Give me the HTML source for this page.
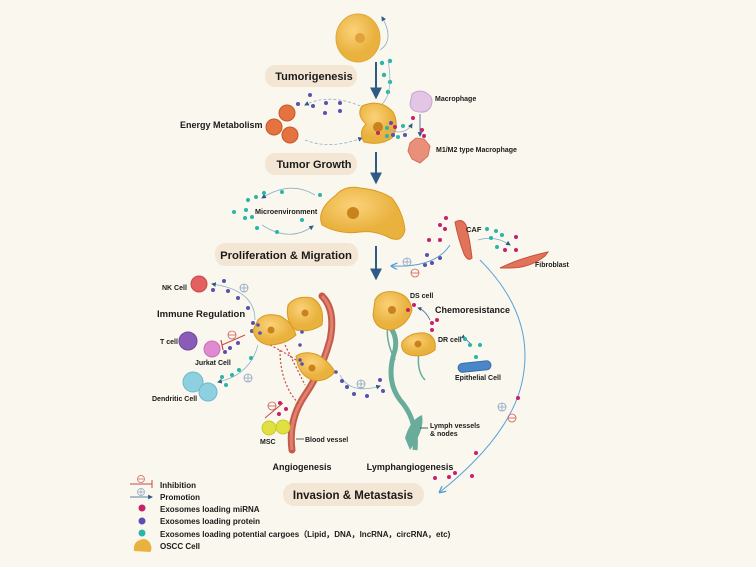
<!DOCTYPE html>
<html><head><meta charset="utf-8"><style>
html,body{margin:0;padding:0;background:#faf8ee;}
svg{display:block;font-family:"Liberation Sans",sans-serif;}
.b{font-weight:bold;fill:#1a1a1a;}
</style></head><body>
<svg width="756" height="567" viewBox="0 0 756 567">
<defs>
<marker id="ah" viewBox="0 0 10 10" refX="8" refY="5" markerWidth="6" markerHeight="6" orient="auto"><path d="M0,0L10,5L0,10z" fill="#2d5a87"/></marker>
<marker id="ab" viewBox="0 0 10 10" refX="8" refY="5" markerWidth="7" markerHeight="7" orient="auto"><path d="M0,0L10,5L0,10" fill="none" stroke="#5aa0d8" stroke-width="2"/></marker>
<radialGradient id="yc" cx="40%" cy="35%"><stop offset="0" stop-color="#fbd27a"/><stop offset="1" stop-color="#e9b13d"/></radialGradient>
</defs>
<rect width="756" height="567" fill="#faf8ee"/>

<g stroke="#2d5a87" stroke-width="2" fill="none" marker-end="url(#ah)">
<line x1="376" y1="62" x2="376" y2="97"/><line x1="376" y1="152" x2="376" y2="182"/><line x1="376" y1="246" x2="376" y2="278"/>
</g>

<rect x="265" y="65" width="92" height="22" rx="10" fill="#f4e6d4"/>
<text x="314" y="80" class="b" font-size="11" text-anchor="middle">Tumorigenesis</text>
<rect x="265" y="153" width="92" height="22" rx="10" fill="#f4e6d4"/>
<text x="314" y="168" class="b" font-size="11" text-anchor="middle">Tumor Growth</text>
<rect x="215" y="243" width="143" height="23" rx="10" fill="#f4e6d4"/>
<text x="286" y="259" class="b" font-size="11.3" text-anchor="middle">Proliferation &amp; Migration</text>
<rect x="283" y="483" width="141" height="23" rx="11" fill="#f4e6d4"/>
<text x="353" y="499" class="b" font-size="11.5" text-anchor="middle">Invasion &amp; Metastasis</text>

<ellipse cx="358" cy="38" rx="22" ry="24" fill="url(#yc)" stroke="#e0a93a"/>
<circle cx="360" cy="38" r="5" fill="#e0a23a"/>
<path d="M380,50 Q395,40 382,17" stroke="#8ab0c8" fill="none" stroke-width="0.8" marker-end="url(#ah)"/>
<g fill="#2bb5a8"><circle cx="382" cy="63" r="2.2"/><circle cx="390" cy="61" r="2.2"/><circle cx="384" cy="75" r="2.2"/><circle cx="390" cy="82" r="2.2"/><circle cx="388" cy="92" r="2.2"/></g>
<path d="M376,108 Q395,100 388,60" stroke="#8ab0c8" fill="none" stroke-width="0.7"/>

<text x="180" y="128" class="b" font-size="9">Energy Metabolism</text>
<g fill="#e5733f" stroke="#c8562a"><circle cx="287" cy="113" r="8"/><circle cx="274" cy="127" r="8"/><circle cx="290" cy="135" r="8"/></g>
<path d="M365,108 Q330,92 305,105" stroke="#8ab0c8" fill="none" stroke-width="0.8" stroke-dasharray="3,2" marker-end="url(#ah)"/>
<path d="M305,140 Q330,150 362,138" stroke="#8ab0c8" fill="none" stroke-width="0.8" stroke-dasharray="3,2" marker-end="url(#ah)"/>
<g fill="#5b4fb0"><circle cx="298" cy="104" r="2"/><circle cx="310" cy="95" r="2"/><circle cx="313" cy="106" r="2"/><circle cx="326" cy="103" r="2"/><circle cx="325" cy="113" r="2"/><circle cx="340" cy="103" r="2"/><circle cx="340" cy="111" r="2"/></g>
<path d="M362,106 Q380,98 393,112 Q400,125 392,138 Q380,146 364,142 Q358,132 366,124 Q356,115 362,106z" fill="url(#yc)" stroke="#d99a20"/>
<circle cx="378" cy="127" r="5" fill="#c9831c"/>
<path d="M412,94 Q420,88 428,94 Q434,98 431,106 Q428,113 420,112 Q411,112 410,104z" fill="#e3c5e6" stroke="#c9a3d0"/>
<text x="435" y="101" class="b" font-size="7">Macrophage</text>
<line x1="420" y1="114" x2="420" y2="136" stroke="#2d5a87" stroke-width="0.8" marker-end="url(#ah)"/>
<path d="M410,143 L416,138 L424,139 L430,146 L428,156 L420,163 L412,159 L408,151z" fill="#e8907a" stroke="#d87060"/>
<text x="436" y="152" class="b" font-size="7">M1/M2 type Macrophage</text>
<path d="M390,130 Q405,136 412,124" stroke="#8ab0c8" fill="none" stroke-width="0.8" marker-end="url(#ah)"/>
<g fill="#2bb5a8"><circle cx="387" cy="128" r="2"/><circle cx="403" cy="126" r="2"/><circle cx="387" cy="136" r="2"/><circle cx="398" cy="137" r="2"/></g>
<g fill="#5b4fb0"><circle cx="391" cy="123" r="2"/><circle cx="393" cy="135" r="2"/><circle cx="405" cy="135" r="2"/></g>
<g fill="#c8206a"><circle cx="395" cy="127" r="2"/><circle cx="378" cy="133" r="2"/><circle cx="413" cy="118" r="2"/><circle cx="422" cy="130" r="2"/><circle cx="424" cy="136" r="2"/></g>

<text x="255" y="214" class="b" font-size="7.2">Microenvironment</text>
<path d="M315,195 Q290,180 262,198" stroke="#8ab0c8" fill="none" stroke-width="0.8" marker-end="url(#ah)"/>
<path d="M262,225 Q290,243 313,226" stroke="#8ab0c8" fill="none" stroke-width="0.8" marker-end="url(#ah)"/>
<g fill="#2bb5a8"><circle cx="248" cy="200" r="2"/><circle cx="256" cy="197" r="2"/><circle cx="264" cy="193" r="2"/><circle cx="282" cy="192" r="2"/><circle cx="234" cy="212" r="2"/><circle cx="246" cy="210" r="2"/><circle cx="245" cy="218" r="2"/><circle cx="252" cy="217" r="2"/><circle cx="257" cy="228" r="2"/><circle cx="277" cy="232" r="2"/><circle cx="302" cy="220" r="2"/><circle cx="320" cy="195" r="2"/></g>
<path d="M336,195 Q345,185 360,188 Q380,190 392,198 Q403,212 405,230 Q402,243 390,238 Q375,230 360,232 Q340,235 322,225 Q316,210 336,195z" fill="url(#yc)" stroke="#d99a20"/>
<circle cx="353" cy="213" r="6" fill="#c9831c"/>

<path d="M455,222 Q462,218 466,225 Q470,240 472,258 Q468,262 464,254 Q458,238 455,222z" fill="#e0735a" stroke="#c8503a"/>
<text x="466" y="232" class="b" font-size="7.5">CAF</text>
<path d="M500,268 Q520,258 548,252 L545,256 Q530,268 510,268z" fill="#e0735a" stroke="#c8503a"/>
<text x="535" y="267" class="b" font-size="7">Fibroblast</text>
<path d="M478,240 Q495,235 510,245" stroke="#8ab0c8" fill="none" stroke-width="0.8" marker-end="url(#ah)"/>
<g fill="#2bb5a8"><circle cx="487" cy="229" r="2"/><circle cx="496" cy="231" r="2"/><circle cx="502" cy="235" r="2"/><circle cx="491" cy="238" r="2"/><circle cx="497" cy="247" r="2"/></g>
<g fill="#c8206a"><circle cx="446" cy="218" r="2"/><circle cx="440" cy="225" r="2"/><circle cx="445" cy="229" r="2"/><circle cx="429" cy="240" r="2"/><circle cx="440" cy="240" r="2"/><circle cx="516" cy="237" r="2"/><circle cx="505" cy="250" r="2"/><circle cx="516" cy="250" r="2"/></g>
<g fill="#5b4fb0"><circle cx="427" cy="255" r="2"/><circle cx="440" cy="258" r="2"/><circle cx="432" cy="263" r="2"/><circle cx="425" cy="265" r="2"/></g>
<path d="M450,245 Q435,268 392,266" stroke="#5aa0d8" fill="none" stroke-width="1" marker-end="url(#ab)"/>
<circle cx="407" cy="262" r="4" fill="none" stroke="#8aa0c0" stroke-width="0.8"/><path d="M403,262h8M407,258v8" stroke="#8aa0c0" stroke-width="0.8"/>
<circle cx="415" cy="273" r="4" fill="none" stroke="#d05a5a" stroke-width="0.8"/><path d="M411,273h8" stroke="#d05a5a" stroke-width="0.8"/>
<path d="M480,260 Q540,320 520,390 Q505,440 440,492" stroke="#5aa0d8" fill="none" stroke-width="1" marker-end="url(#ab)"/>
<circle cx="502" cy="407" r="4" fill="none" stroke="#8aa0c0" stroke-width="0.8"/><path d="M498,407h8M502,403v8" stroke="#8aa0c0" stroke-width="0.8"/>
<circle cx="512" cy="418" r="4" fill="none" stroke="#d05a5a" stroke-width="0.8"/><path d="M508,418h8" stroke="#d05a5a" stroke-width="0.8"/>
<g fill="#c8206a"><circle cx="518" cy="398" r="2"/><circle cx="476" cy="453" r="2"/><circle cx="455" cy="473" r="2"/><circle cx="435" cy="478" r="2"/><circle cx="449" cy="477" r="2"/><circle cx="472" cy="476" r="2"/></g>

<text x="162" y="290" class="b" font-size="7">NK Cell</text>
<circle cx="199" cy="284" r="8" fill="#e46060" stroke="#c84848"/>
<text x="157" y="317" class="b" font-size="9.5">Immune Regulation</text>
<text x="160" y="344" class="b" font-size="7">T cell</text>
<circle cx="188" cy="341" r="9" fill="#8a5cb8" stroke="#6e44a0"/>
<circle cx="212" cy="349" r="8" fill="#e08ad0" stroke="#c870b8"/>
<text x="195" y="365" class="b" font-size="7">Jurkat Cell</text>
<circle cx="193" cy="382" r="10" fill="#8ed0e0" stroke="#6ab8cc"/><circle cx="208" cy="392" r="9" fill="#8ed0e0" stroke="#6ab8cc"/>
<text x="152" y="401" class="b" font-size="7">Dendritic Cell</text>
<path d="M255,320 Q255,290 212,284" stroke="#8ab0c8" fill="none" stroke-width="0.8" marker-end="url(#ah)"/>
<path d="M258,345 Q250,375 218,382" stroke="#8ab0c8" fill="none" stroke-width="0.8" marker-end="url(#ah)"/>
<line x1="245" y1="335" x2="222" y2="345" stroke="#c84848" stroke-width="1"/><line x1="221" y1="340" x2="223" y2="350" stroke="#c84848" stroke-width="1.2"/>
<circle cx="244" cy="288" r="4" fill="none" stroke="#8aa0c0" stroke-width="0.8"/><path d="M240,288h8M244,284v8" stroke="#8aa0c0" stroke-width="0.8"/>
<circle cx="232" cy="335" r="4" fill="none" stroke="#d05a5a" stroke-width="0.8"/><path d="M228,335h8" stroke="#d05a5a" stroke-width="0.8"/>
<circle cx="248" cy="378" r="4" fill="none" stroke="#8aa0c0" stroke-width="0.8"/><path d="M244,378h8M248,374v8" stroke="#8aa0c0" stroke-width="0.8"/>
<g fill="#5b4fb0"><circle cx="224" cy="281" r="2"/><circle cx="213" cy="290" r="2"/><circle cx="228" cy="291" r="2"/><circle cx="238" cy="298" r="2"/><circle cx="248" cy="308" r="2"/><circle cx="253" cy="323" r="2"/><circle cx="252" cy="331" r="2"/><circle cx="230" cy="348" r="2"/><circle cx="225" cy="352" r="2"/><circle cx="238" cy="343" r="2"/><circle cx="258" cy="331" r="2"/></g>
<g fill="#2bb5a8"><circle cx="251" cy="358" r="2"/><circle cx="239" cy="370" r="2"/><circle cx="232" cy="375" r="2"/><circle cx="222" cy="377" r="2"/><circle cx="226" cy="385" r="2"/></g>

<path d="M292,450 Q288,420 305,395 Q322,370 330,340 Q336,310 322,296" stroke="#c45a48" stroke-width="7" fill="none" stroke-linecap="round"/>
<path d="M292,450 Q288,420 305,395 Q322,370 330,340 Q336,310 322,296" stroke="#e08070" stroke-width="3" fill="none"/>
<path d="M270,345 Q300,360 318,378 M280,350 Q280,385 300,405 M285,345 Q300,375 305,385" stroke="#c84848" stroke-dasharray="2,2" fill="none" stroke-width="1.2"/>
<line x1="283" y1="403" x2="265" y2="418" stroke="#c84848" stroke-width="1"/>
<circle cx="272" cy="406" r="4" fill="none" stroke="#d05a5a" stroke-width="0.8"/><path d="M268,406h8" stroke="#d05a5a" stroke-width="0.8"/>
<g fill="#c8206a"><circle cx="280" cy="403" r="2"/><circle cx="286" cy="409" r="2"/><circle cx="279" cy="414" r="2"/></g>
<ellipse cx="269" cy="428" rx="7" ry="7" fill="#e0e040" stroke="#c8c830"/><ellipse cx="283" cy="427" rx="7" ry="7" fill="#e0e040" stroke="#c8c830"/>
<text x="260" y="444" class="b" font-size="7">MSC</text>
<line x1="296" y1="439" x2="304" y2="439" stroke="#333" stroke-width="0.8"/>
<text x="305" y="442" class="b" font-size="7">Blood vessel</text>

<g fill="url(#yc)" stroke="#d99a20">
<path d="M258,320 Q265,312 280,316 Q292,322 296,335 Q285,345 268,345 Q255,342 253,330z"/>
<path d="M288,305 Q296,295 312,298 Q325,305 322,325 Q310,333 296,330 Q285,322 288,305z"/>
<path d="M296,356 Q305,350 318,355 Q330,362 335,372 Q325,383 312,380 Q298,375 296,356z"/>
</g>
<g fill="#c9831c"><circle cx="271" cy="330" r="3.5"/><circle cx="305" cy="313" r="3.5"/><circle cx="312" cy="368" r="3.5"/></g>
<g fill="#5b4fb0"><circle cx="258" cy="325" r="1.8"/><circle cx="260" cy="333" r="1.8"/><circle cx="302" cy="332" r="1.8"/><circle cx="300" cy="345" r="1.8"/><circle cx="300" cy="360" r="1.8"/><circle cx="302" cy="364" r="1.8"/><circle cx="336" cy="372" r="1.8"/></g>
<path d="M340,375 Q350,395 380,386" stroke="#8ab0c8" fill="none" stroke-width="0.8" marker-end="url(#ah)"/>
<circle cx="361" cy="384" r="4" fill="none" stroke="#8aa0c0" stroke-width="0.8"/><path d="M357,384h8M361,380v8" stroke="#8aa0c0" stroke-width="0.8"/>
<g fill="#5b4fb0"><circle cx="342" cy="381" r="2"/><circle cx="347" cy="387" r="2"/><circle cx="354" cy="394" r="2"/><circle cx="367" cy="396" r="2"/><circle cx="380" cy="380" r="2"/><circle cx="383" cy="391" r="2"/></g>

<path d="M415,450 Q418,420 400,400 Q385,380 395,350 Q398,335 388,325" stroke="#6aac9c" stroke-width="5" fill="none"/>
<path d="M410,450 Q425,430 422,415 Q410,420 405,438z" fill="#6aac9c"/>
<path d="M420,345 Q415,370 425,380 M395,360 Q385,340 388,325" stroke="#6aac9c" stroke-width="1.5" fill="none"/>
<line x1="420" y1="428" x2="428" y2="428" stroke="#333" stroke-width="0.8"/>
<text x="430" y="428" class="b" font-size="7">Lymph vessels</text>
<text x="430" y="436" class="b" font-size="7">&amp; nodes</text>
<g fill="url(#yc)" stroke="#d99a20">
<path d="M375,300 Q380,290 395,292 Q410,295 412,310 Q408,325 392,330 Q375,330 373,315z"/>
<path d="M402,342 Q410,332 425,333 Q437,336 435,350 Q425,358 410,355 Q400,352 402,342z"/>
</g>
<g fill="#c9831c"><circle cx="392" cy="310" r="4"/><circle cx="418" cy="344" r="3.5"/></g>
<text x="410" y="298" class="b" font-size="7">DS cell</text>
<text x="435" y="313" class="b" font-size="9">Chemoresistance</text>
<text x="438" y="342" class="b" font-size="7">DR cell</text>
<path d="M430,320 Q425,310 418,308" stroke="#2d5a87" stroke-width="0.7" fill="none" marker-end="url(#ah)"/>
<g fill="#c8206a"><circle cx="414" cy="305" r="2"/><circle cx="408" cy="310" r="2"/><circle cx="432" cy="323" r="2"/><circle cx="437" cy="320" r="2"/><circle cx="432" cy="330" r="2"/></g>
<path d="M472,345 Q462,336 465,338" stroke="#2d5a87" stroke-width="0.7" fill="none" marker-end="url(#ah)"/>
<g fill="#2bb5a8"><circle cx="465" cy="339" r="2"/><circle cx="470" cy="345" r="2"/><circle cx="480" cy="345" r="2"/><circle cx="476" cy="357" r="2"/></g>
<rect x="458" y="362" width="33" height="9" rx="4.5" fill="#4a86c8" stroke="#3a6ea8" transform="rotate(-6 475 366)"/>
<text x="455" y="380" class="b" font-size="7">Epithelial Cell</text>

<text x="302" y="470" class="b" font-size="9" text-anchor="middle">Angiogenesis</text>
<text x="410" y="470" class="b" font-size="9" text-anchor="middle">Lymphangiogenesis</text>

<line x1="130" y1="484" x2="152" y2="484" stroke="#c84848" stroke-width="1"/><line x1="152" y1="480" x2="152" y2="488" stroke="#c84848" stroke-width="1"/>
<circle cx="141" cy="479" r="3.5" fill="none" stroke="#d05a5a" stroke-width="0.7"/><path d="M138,479h6" stroke="#d05a5a" stroke-width="0.7"/>
<text x="160" y="488" class="b" font-size="8">Inhibition</text>
<line x1="130" y1="497" x2="152" y2="497" stroke="#2d5a87" stroke-width="0.8" marker-end="url(#ah)"/>
<circle cx="141" cy="492" r="3.5" fill="none" stroke="#8aa0c0" stroke-width="0.7"/><path d="M138,492h6M141,489v6" stroke="#8aa0c0" stroke-width="0.7"/>
<text x="160" y="500" class="b" font-size="8">Promotion</text>
<circle cx="142" cy="508" r="3.5" fill="#c8206a"/><text x="160" y="512" class="b" font-size="8">Exosomes loading miRNA</text>
<circle cx="142" cy="521" r="3.5" fill="#5b4fb0"/><text x="160" y="524" class="b" font-size="8">Exosomes loading protein</text>
<circle cx="142" cy="533" r="3.5" fill="#2bb5a8"/><text x="160" y="537" class="b" font-size="8">Exosomes loading potential cargoes（Lipid，DNA，lncRNA，circRNA，etc)</text>
<path d="M134,551 Q133,542 140,540 Q146,537 150,543 Q153,549 150,552z" fill="#e9b13d"/>
<text x="160" y="549" class="b" font-size="8">OSCC Cell</text>
</svg>
</body></html>
